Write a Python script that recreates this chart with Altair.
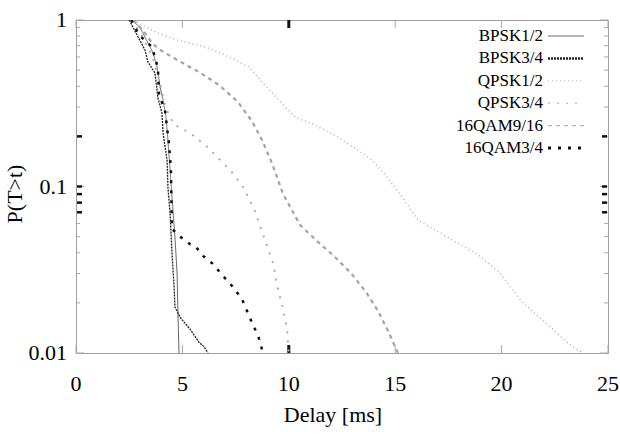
import altair as alt
import pandas as pd

series = ["BPSK1/2", "BPSK3/4", "QPSK1/2", "QPSK3/4", "16QAM9/16", "16QAM3/4"]

bpsk12_x = [2.6, 3.0, 3.62, 3.81, 3.95, 4.09, 4.23, 4.32, 4.42, 4.51, 4.65, 4.75, 4.79, 4.84]
bpsk12_y = [1.0, 0.908, 0.634, 0.522, 0.396, 0.331, 0.261, 0.19, 0.126, 0.0865, 0.0497, 0.0302, 0.0174, 0.01]

bpsk34_x = [2.5, 3.24, 3.38, 3.71, 3.85, 4.04, 4.09, 4.28, 4.32, 4.42, 4.51, 4.61, 4.65, 4.89, 5.12, 5.36, 5.59, 5.78, 6.02, 6.2]
bpsk34_y = [1.0, 0.66, 0.56, 0.48, 0.34, 0.276, 0.21, 0.144, 0.0993, 0.0693, 0.0399, 0.0249, 0.0189, 0.0164, 0.0151, 0.0139, 0.0126, 0.0116, 0.0109, 0.01]

qpsk12_x = [2.7, 3.2, 3.85, 4.75, 6.06, 6.91, 8.13, 8.74, 9.35, 10.29, 11.14, 12.31, 13.11, 13.86, 14.47, 15.32, 16.07, 16.87, 18.42, 18.84, 19.88, 21.0, 22.04, 23.07, 23.8]
qpsk12_y = [1.0, 0.92, 0.835, 0.758, 0.689, 0.625, 0.522, 0.424, 0.35, 0.261, 0.237, 0.198, 0.17, 0.146, 0.12, 0.0865, 0.0629, 0.0548, 0.0421, 0.0393, 0.0306, 0.02, 0.0153, 0.0116, 0.01]

qpsk34_x = [2.6, 3.0, 3.6, 3.95, 4.2, 4.6, 5.36, 6.16, 7.28, 7.85, 8.41, 8.83, 9.26, 9.49, 9.73, 9.92, 10.0]
qpsk34_y = [1.0, 0.85, 0.6, 0.42, 0.3, 0.235, 0.21, 0.173, 0.124, 0.0993, 0.0713, 0.0497, 0.0347, 0.0242, 0.0184, 0.0137, 0.0101]

qam916_x = [2.7, 3.2, 3.6, 4.04, 4.84, 5.78, 6.72, 7.61, 8.27, 8.74, 9.21, 9.73, 10.53, 11.37, 12.17, 12.92, 13.63, 14.19, 14.66, 15.13]
qam916_y = [1.0, 0.85, 0.72, 0.651, 0.567, 0.487, 0.407, 0.322, 0.247, 0.19, 0.138, 0.09, 0.0587, 0.0465, 0.0377, 0.0302, 0.0232, 0.0179, 0.0136, 0.01]

qam34_x = [2.6, 2.96, 3.57, 3.85, 3.9, 4.18, 4.37, 4.46, 4.51, 4.98, 5.36, 5.64, 5.97, 6.39, 6.91, 7.33, 7.8, 8.32, 8.55, 8.79]
qam34_y = [1.0, 0.813, 0.689, 0.515, 0.355, 0.288, 0.18, 0.127, 0.0556, 0.049, 0.0451, 0.0433, 0.0383, 0.0347, 0.029, 0.0253, 0.0211, 0.0147, 0.0128, 0.01]

x_ticks = [0, 5, 10, 15, 20, 25]
x_labels = ["0", "5", "10", "15", "20", "25"]
y_major = [0.01, 0.1, 1]
y_labels = ["0.01", "0.1", "1"]
y_minor = [0.02, 0.03, 0.04, 0.05, 0.06, 0.07, 0.08, 0.09, 0.2, 0.3, 0.4, 0.5, 0.6, 0.7, 0.8, 0.9]
y_dark = [0.2, 0.1, 0.09, 0.08, 0.07]
x_dark = [10]
x_title = "Delay [ms]"
y_title = "P(T>t)"

colors = ["#666666", "#222222", "#b4b4b4", "#a8a8a8", "#a4a4a4", "#111111"]
dashes = [[1, 0], [2, 1], [1, 3], [2, 7], [4, 4], [3, 7]]
widths = [1, 2.5, 1, 1, 1, 3]

W, H = 532, 333
FONT = "Liberation Serif"

xs = [bpsk12_x, bpsk34_x, qpsk12_x, qpsk34_x, qam916_x, qam34_x]
ys = [bpsk12_y, bpsk34_y, qpsk12_y, qpsk34_y, qam916_y, qam34_y]
rows = []
for s, xv, yv in zip(series, xs, ys):
    for i, (a, b) in enumerate(zip(xv, yv)):
        rows.append({"series": s, "delay": a, "p": b, "i": i})
df = pd.DataFrame(rows)

xscale = alt.Scale(domain=[0, 25], nice=False, zero=False)
yscale = alt.Scale(type="log", domain=[0.01, 1], nice=False)

lines = alt.Chart(df).mark_line(clip=True).encode(
    x=alt.X("delay:Q", scale=xscale, axis=None),
    y=alt.Y("p:Q", scale=yscale, axis=None),
    detail="series:N",
    order="i:Q",
    color=alt.Color("series:N", scale=alt.Scale(domain=series, range=colors), legend=None),
    strokeDash=alt.StrokeDash("series:N", scale=alt.Scale(domain=series, range=dashes), legend=None),
    strokeWidth=alt.StrokeWidth("series:N", scale=alt.Scale(domain=series, range=widths), legend=None),
)

tick_gray = "#a8a8a8"
xt = pd.DataFrame({"v": x_ticks, "lab": x_labels})
xtick_bot = alt.Chart(xt).mark_rule(color=tick_gray, strokeWidth=1).encode(
    x=alt.X("v:Q", scale=xscale, axis=None), y=alt.value(H), y2=alt.value(H - 8))
xtick_top = alt.Chart(xt).mark_rule(color=tick_gray, strokeWidth=1).encode(
    x=alt.X("v:Q", scale=xscale, axis=None), y=alt.value(0), y2=alt.value(8))
xlab = alt.Chart(xt).mark_text(font=FONT, fontSize=22, align="center", baseline="middle", color="black").encode(
    x=alt.X("v:Q", scale=xscale, axis=None), y=alt.value(H + 31), text="lab:N")

ym = pd.DataFrame({"v": y_major, "lab": y_labels})
yn = pd.DataFrame({"v": y_minor})
ytl = alt.Chart(ym).mark_rule(color=tick_gray).encode(
    y=alt.Y("v:Q", scale=yscale, axis=None), x=alt.value(0), x2=alt.value(8))
ytr = alt.Chart(ym).mark_rule(color=tick_gray).encode(
    y=alt.Y("v:Q", scale=yscale, axis=None), x=alt.value(W), x2=alt.value(W - 8))
ylab = alt.Chart(ym).mark_text(font=FONT, fontSize=22, align="right", baseline="middle", color="black").encode(
    y=alt.Y("v:Q", scale=yscale, axis=None), x=alt.value(-9), text="lab:N")
ynl = alt.Chart(yn).mark_rule(color=tick_gray).encode(
    y=alt.Y("v:Q", scale=yscale, axis=None), x=alt.value(0), x2=alt.value(4))
ynr = alt.Chart(yn).mark_rule(color=tick_gray).encode(
    y=alt.Y("v:Q", scale=yscale, axis=None), x=alt.value(W), x2=alt.value(W - 4))

yd = pd.DataFrame({"v": y_dark})
ydl = alt.Chart(yd).mark_rule(color="#111", strokeWidth=2.5).encode(
    y=alt.Y("v:Q", scale=yscale, axis=None), x=alt.value(1), x2=alt.value(6))
ydr = alt.Chart(yd).mark_rule(color="#111", strokeWidth=2.5).encode(
    y=alt.Y("v:Q", scale=yscale, axis=None), x=alt.value(W - 1), x2=alt.value(W - 6))
xd = pd.DataFrame({"v": x_dark})
xdb = alt.Chart(xd).mark_rule(color="#111", strokeWidth=3).encode(
    x=alt.X("v:Q", scale=xscale, axis=None), y=alt.value(H), y2=alt.value(H - 8))
xdt = alt.Chart(xd).mark_rule(color="#111", strokeWidth=3).encode(
    x=alt.X("v:Q", scale=xscale, axis=None), y=alt.value(0), y2=alt.value(8))

titles = pd.DataFrame({"t": [x_title]})
xtitle = alt.Chart(titles).mark_text(font=FONT, fontSize=22, align="center", baseline="middle", color="black").encode(
    text="t:N", x=alt.value(257), y=alt.value(H + 62))
ytitles = pd.DataFrame({"t": [y_title]})
ytitle = alt.Chart(ytitles).mark_text(font=FONT, fontSize=22, align="center", baseline="middle", angle=270,
                                      color="black").encode(
    text="t:N", x=alt.value(-61), y=alt.value(174))

legend_layers = []
lab_x = 467
samp_x1, samp_x2 = 472, 508
for k, s in enumerate(series):
    ly = 16 + k * 22.4
    one = pd.DataFrame({"series": [s]})
    legend_layers.append(
        alt.Chart(one).mark_text(align="right", baseline="middle", font=FONT, fontSize=17, color="black").encode(
            text="series:N", x=alt.value(lab_x), y=alt.value(ly)))
    legend_layers.append(
        alt.Chart(one).mark_rule(color=colors[k], strokeDash=dashes[k], strokeWidth=widths[k]).encode(
            x=alt.value(samp_x1), x2=alt.value(samp_x2), y=alt.value(ly)))

chart = alt.layer(
    ynl, ynr, ytl, ytr, xtick_bot, xtick_top, ydl, ydr, xdb, xdt, lines,
    xlab, ylab, xtitle, ytitle, *legend_layers
).properties(
    width=W, height=H,
    autosize=alt.AutoSizeParams(type="none"),
    padding={"left": 76, "top": 20, "right": 12, "bottom": 86},
    background="white",
).configure_view(
    stroke="#a0a0a0", strokeWidth=1
)

chart.save("out.html", embed_options={"renderer": "svg", "actions": False})
